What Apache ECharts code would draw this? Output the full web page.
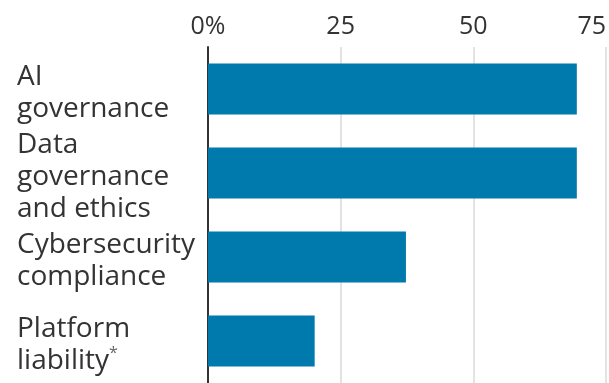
<!DOCTYPE html>
<html>
<head>
<meta charset="utf-8">
<script src="https://cdn.jsdelivr.net/npm/echarts@6/dist/echarts.min.js"></script>
<style>
html,body{margin:0;padding:0;background:#fff;}
#c{width:609px;height:383px;}
</style>
</head>
<body>
<div id="c"></div>
<script>
var categories = ["AI\ngovernance", "Data\ngovernance\nand ethics", "Cybersecurity\ncompliance", "Platform\nliability{s|*}"];
var values = [69.5, 69.5, 37.3, 20.1];
var tickLabels = {0: "0%", 25: "25", 50: "50", 75: "75"};

var chart = echarts.init(document.getElementById('c'));
chart.setOption({
  animation: false,
  backgroundColor: '#fff',
  grid: {left: 208, right: 2, top: 47, height: 341, containLabel: false},
  xAxis: {
    type: 'value', position: 'top', min: 0, max: 75, interval: 25,
    axisLine: {show: false}, axisTick: {show: false},
    splitLine: {show: true, lineStyle: {color: '#e2e2e2', width: 2}},
    axisLabel: {
      color: '#333', fontSize: 25, fontFamily: 'Open Sans', margin: 8,
      alignMaxLabel: 'right',
      formatter: function (v) { return tickLabels[v] !== undefined ? tickLabels[v] : ''; }
    }
  },
  yAxis: {
    type: 'category', inverse: true, data: categories,
    axisLine: {show: true, lineStyle: {color: '#333', width: 2}},
    axisTick: {show: false},
    axisLabel: {
      interval: 0, hideOverlap: false,
      align: 'left', margin: 191, color: '#333', fontSize: 28, lineHeight: 32,
      fontFamily: 'Open Sans', padding: [8, 0, 0, 0],
      rich: {s: {fontSize: 16, color: '#666', verticalAlign: 'top', lineHeight: 32, fontFamily: 'Open Sans'}}
    }
  },
  series: [{
    type: 'bar', data: values, barCategoryGap: '39%',
    itemStyle: {color: '#0079ad'}
  }]
});
</script>
</body>
</html>
